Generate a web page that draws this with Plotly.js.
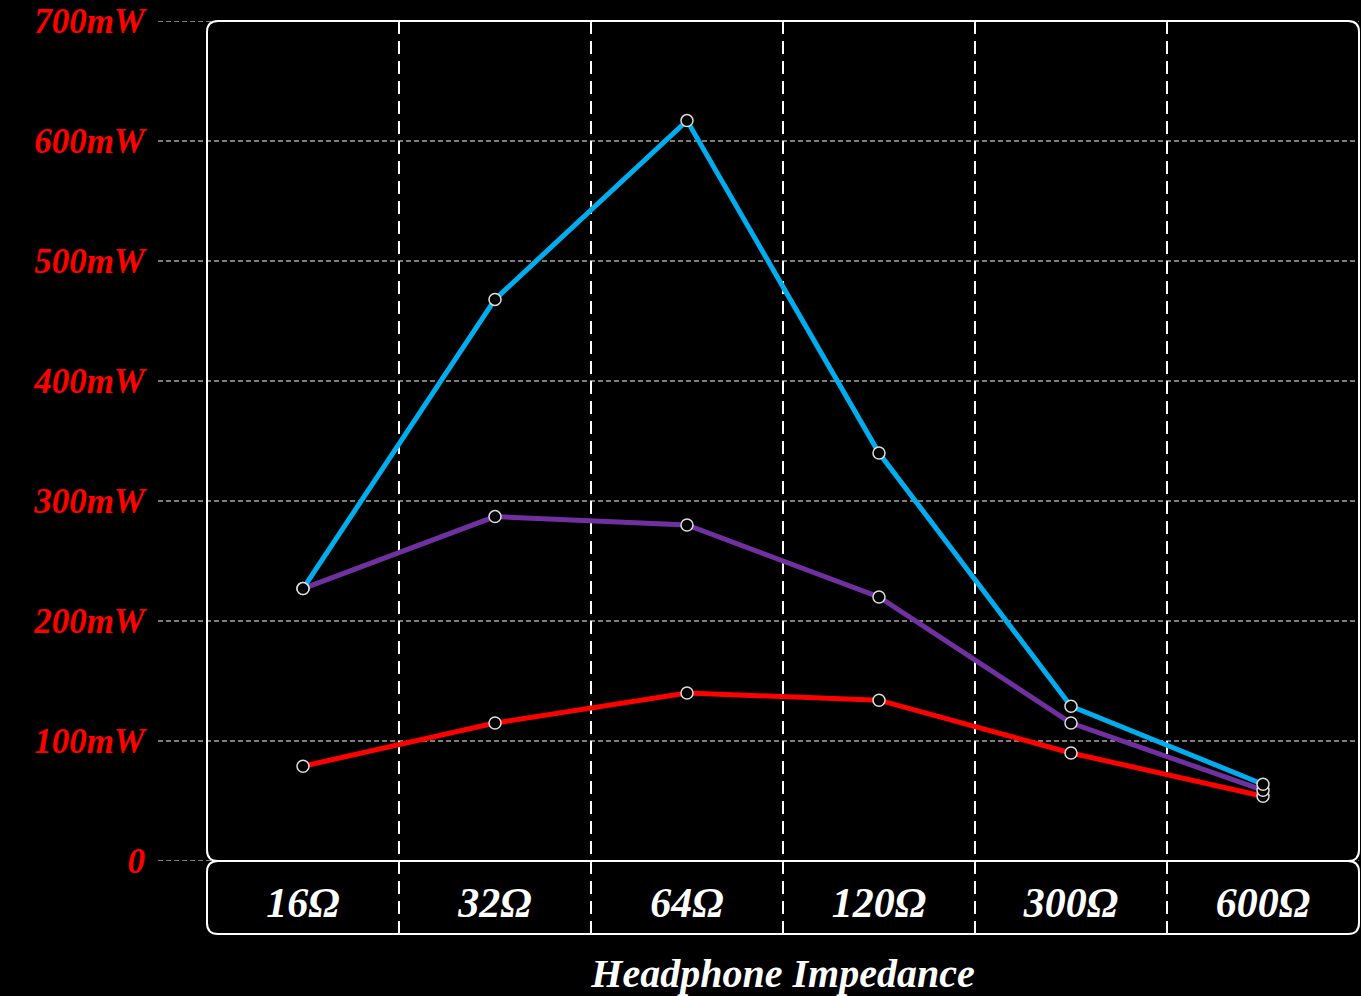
<!DOCTYPE html>
<html>
<head>
<meta charset="utf-8">
<script src="https://cdn.plot.ly/plotly-3.0.1.min.js"></script>
<style>html,body{margin:0;padding:0;background:#000;}#chart{width:1361px;height:996px;}</style>
</head>
<body>
<div id="chart"></div>
<script>
const categories = ['16Ω', '32Ω', '64Ω', '120Ω', '300Ω', '600Ω'];
const blueValues = [227, 468, 617, 340, 129, 64];
const purpleValues = [227, 287, 280, 220, 115, 59];
const redValues = [79, 115, 140, 134, 90, 54];
const yTickVals = [0, 100, 200, 300, 400, 500, 600, 700];
const yTickText = ['0', '100mW', '200mW', '300mW', '400mW', '500mW', '600mW', '700mW'];
const xTitle = 'Headphone Impedance';

const W = 1361, H = 996;
const M = {l: 207, r: 2, t: 21, b: 135};
const PW = W - M.l - M.r, PH = H - M.t - M.b;

function roundedRect(x0, y0, x1, y1, rpx) {
  const rx = rpx / PW, ry = rpx / PH;
  return `M ${x0 + rx} ${y1} L ${x1 - rx} ${y1} Q ${x1} ${y1} ${x1} ${y1 - ry} ` +
         `L ${x1} ${y0 + ry} Q ${x1} ${y0} ${x1 - rx} ${y0} ` +
         `L ${x0 + rx} ${y0} Q ${x0} ${y0} ${x0} ${y0 + ry} ` +
         `L ${x0} ${y1 - ry} Q ${x0} ${y1} ${x0 + rx} ${y1} Z`;
}

const labelBoxBottom = -73 / PH;
const shapes = [];
yTickVals.forEach(v => {
  shapes.push({type: 'line', xref: 'paper', yref: 'y', x0: -49 / PW, x1: 1, y0: v, y1: v,
    layer: 'below', line: {color: '#a6a6a6', width: 1.3, dash: '5px,3px'}});
});
for (let i = 0; i < categories.length - 1; i++) {
  shapes.push({type: 'line', xref: 'x', yref: 'paper', x0: i + 0.5, x1: i + 0.5, y0: labelBoxBottom, y1: 1,
    layer: 'below', line: {color: '#ffffff', width: 2, dash: '13px,7px'}});
}
shapes.push({type: 'path', xref: 'paper', yref: 'paper', path: roundedRect(0, 0, 1, 1, 11),
  layer: 'below', line: {color: '#ffffff', width: 2}});
shapes.push({type: 'path', xref: 'paper', yref: 'paper', path: roundedRect(0, labelBoxBottom, 1, 0, 11),
  layer: 'below', line: {color: '#ffffff', width: 2}});

const series = [
  {name: 'Red', y: redValues, color: '#ff0000'},
  {name: 'Purple', y: purpleValues, color: '#7030a0'},
  {name: 'Blue', y: blueValues, color: '#00aeef'}
];
const traces = [];
series.forEach(s => traces.push({x: categories, y: s.y, type: 'scatter', mode: 'lines', name: s.name,
  line: {color: s.color, width: 5}, hoverinfo: 'skip'}));
series.forEach(s => traces.push({x: categories, y: s.y, type: 'scatter', mode: 'markers', name: s.name,
  marker: {size: 12, color: '#000', line: {color: '#dddddd', width: 1.5}}}));

const layout = {
  width: W, height: H,
  margin: M,
  paper_bgcolor: '#000', plot_bgcolor: '#000',
  showlegend: false,
  xaxis: {
    type: 'category', range: [-0.5, categories.length - 0.5],
    showgrid: false, zeroline: false, showline: false,
    ticks: 'outside', ticklen: 5, tickcolor: 'rgba(0,0,0,0)',
    tickfont: {family: 'Liberation Serif', size: 42, color: '#ffffff', weight: 'bold', style: 'italic'},
    title: {text: xTitle, standoff: 43,
      font: {family: 'Liberation Serif', size: 40, color: '#ffffff', weight: 'bold', style: 'italic'}},
    fixedrange: true
  },
  yaxis: {
    range: [0, 700], tickvals: yTickVals, ticktext: yTickText,
    showgrid: false, zeroline: false, showline: false,
    ticks: 'outside', ticklen: 54, tickcolor: 'rgba(0,0,0,0)',
    tickfont: {family: 'Liberation Serif', size: 35, color: '#ff0000', weight: 'bold', style: 'italic'},
    fixedrange: true
  },
  shapes: shapes
};
Plotly.newPlot('chart', traces, layout, {displayModeBar: false, staticPlot: true});
</script>
</body>
</html>
